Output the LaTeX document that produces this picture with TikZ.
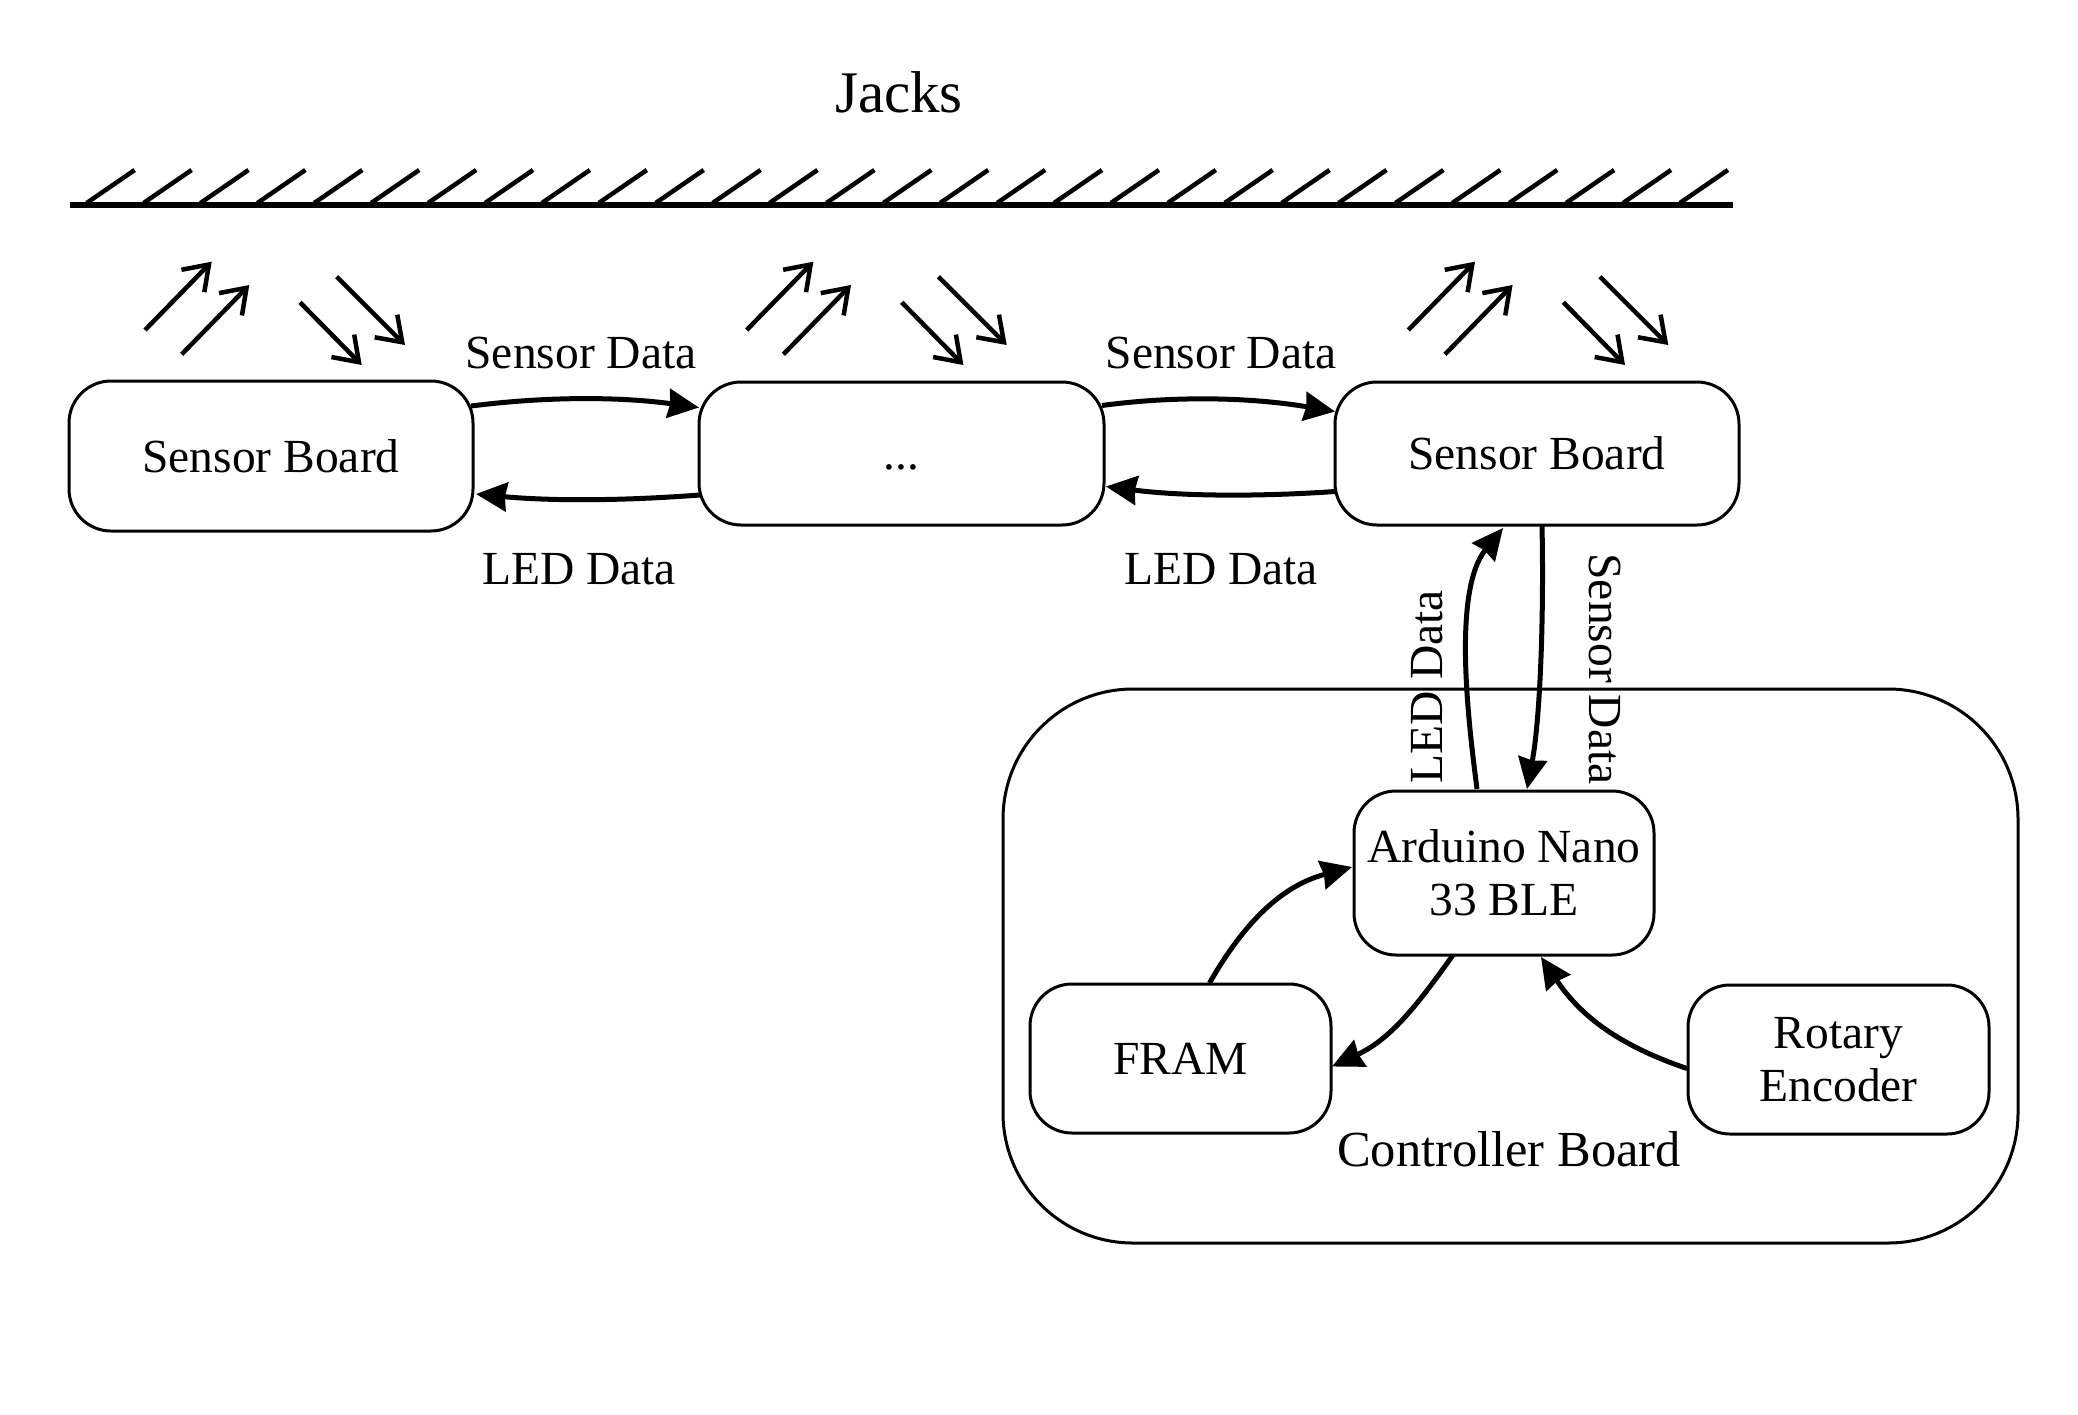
\documentclass[tikz,border=0pt]{standalone}
\usepackage{fontspec}
\setmainfont{Liberation Serif}
\usetikzlibrary{arrows.meta,calc}
\newcommand\tfont{\fontsize{47.5}{53}\selectfont}
\newcommand\cbfont{\fontsize{50.5}{56}\selectfont}
\newcommand\jfont{\fontsize{59}{66}\selectfont}
\tikzset{
  box/.style={draw, line width=3pt, rounded corners=42pt, inner sep=0pt, outer sep=0pt, align=center, font=\tfont},
  conn/.style={line width=5pt, -{Stealth[length=31pt,width=29pt,inset=2pt]}},
  sarrow/.style={line width=4.5pt, -{Straight Barb[length=23pt,width=32pt]}},
  hatch/.style={line width=4.5pt},
  lbl/.style={font=\tfont, inner sep=0pt}
}
\begin{document}
\begin{tikzpicture}[x=1pt,y=-1pt]
\useasboundingbox (0,0) rectangle (2078,1414);
% title and ground
\node[font=\jfont, inner sep=0pt] (jacks) at (899,92) {Jacks};
\draw[line width=6pt] (70,205) -- (1733,205);
\foreach \i in {0,...,28} \draw[hatch] ({86.7+\i*56.9},203) -- ++(48,-33);
% small arrows
\foreach \ox in {0,601.7,1263.3} {
  \draw[sarrow] ({145+\ox},330) -- ({211.7+\ox},261.7);
  \draw[sarrow] ({181.7+\ox},354.3) -- ({249.3+\ox},285);
  \draw[sarrow] ({300+\ox},302.3) -- ({361.7+\ox},365);
  \draw[sarrow] ({336.7+\ox},276.7) -- ({405+\ox},345);
}
% controller container
\node[draw, line width=3pt, rounded corners=130pt, minimum width=1015pt, minimum height=554pt, inner sep=0pt] (ctrl) at (1510.5,966) {};
% boxes
\node[box, minimum width=404pt, minimum height=150pt] (b1) at (271,456) {Sensor Board};
\node[box, minimum width=405pt, minimum height=143pt] (b2) at (901.5,453.5) {\vphantom{Sensor Board}...};
\node[box, minimum width=404pt, minimum height=143pt] (b3) at (1537,453.5) {Sensor Board};
\node[box, minimum width=300pt, minimum height=164pt] (ard) at (1504,873) {Arduino Nano\\33 BLE};
\node[box, minimum width=301pt, minimum height=149pt] (fram) at (1180.5,1058.5) {FRAM};
\node[box, minimum width=301pt, minimum height=149pt] (rot) at (1838.5,1059.5) {Rotary\\Encoder};
% labels
\node[lbl] (sd1) at (581,353) {Sensor Data};
\node[lbl] (ld1) at (579,569) {LED Data};
\node[lbl] (sd2) at (1221,353) {Sensor Data};
\node[lbl] (ld2) at (1221,569) {LED Data};
\node[lbl, rotate=90] (ld3) at (1427,687) {LED Data};
\node[lbl, rotate=-90] (sd3) at (1605,669) {Sensor Data};
\node[font=\cbfont, inner sep=0pt] (cb) at (1509,1149) {Controller Board};
% connectors between sensor boards
\draw[conn] ($(b1.east)+(-2,-50)$) .. controls (550,396) and (622,397) .. ($(b2.west)+(0,-46)$);
\draw[conn] ($(b2.west)+(1,41.5)$) .. controls (620,501) and (550,501) .. ($(b1.east)+(3,38)$);
\draw[conn] ($(b2.east)+(-2,-48)$) .. controls (1180,395) and (1255,398) .. ($(b3.west)+(0,-42)$);
\draw[conn] ($(b3.west)+(0,38)$) .. controls (1255,497) and (1180,496) .. ($(b2.east)+(2,33)$);
% vertical connectors
\draw[conn] ($(ard.north)+(-27,-2)$) .. controls (1469,726.5) and (1451.7,591.5) .. ($(b3.south)+(-34,3)$);
\draw[conn] ($(b3.south)+(5,0)$) .. controls (1544,620) and (1540,720) .. ($(ard.north)+(23,-2)$);
% controller internals
\draw[conn] ($(fram.north)+(29,-1)$) .. controls (1245,921) and (1282.5,885.6) .. ($(ard.west)+(-2,-6)$);
\draw[conn] ($(ard.south)+(-51,0)$) .. controls (1415,1008.5) and (1389.6,1039.5) .. ($(fram.east)+(1,8)$);
\draw[conn] ($(rot.west)+(-1,9)$) .. controls (1619.5,1045.6) and (1581,1016.6) .. ($(ard.south)+(37,2)$);
\end{tikzpicture}
\end{document}
